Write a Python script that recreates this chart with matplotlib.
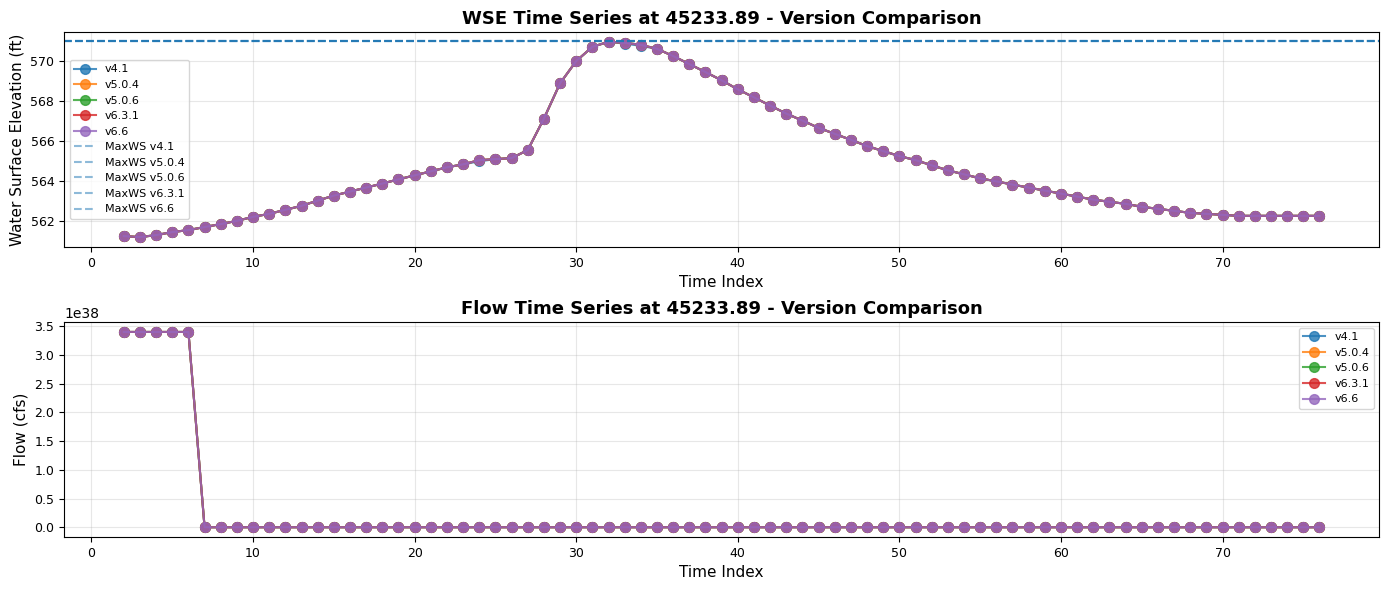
import matplotlib
matplotlib.use("Agg")
import matplotlib.pyplot as plt
import numpy as np

versions = ["v4.1", "v5.0.4", "v5.0.6", "v6.3.1", "v6.6"]
colors = ["#1f77b4", "#ff7f0e", "#2ca02c", "#d62728", "#9467bd"]
time_index = list(range(2, 77))

wse = [561.27, 561.22, 561.32, 561.47, 561.57, 561.72, 561.87, 562.03, 562.23, 562.38,
       562.58, 562.78, 563.04, 563.29, 563.49, 563.69, 563.89, 564.10, 564.30, 564.50,
       564.70, 564.85, 565.06, 565.11, 565.16, 565.56, 567.13, 568.89, 570.00, 570.71,
       570.96, 570.91, 570.81, 570.61, 570.25, 569.85, 569.45, 569.04, 568.59, 568.19,
       567.78, 567.38, 567.03, 566.67, 566.37, 566.07, 565.76, 565.51, 565.26, 565.06,
       564.80, 564.55, 564.35, 564.15, 564.00, 563.84, 563.69, 563.54, 563.39, 563.24,
       563.09, 562.98, 562.88, 562.73, 562.63, 562.53, 562.43, 562.38, 562.33, 562.28,
       562.28, 562.28, 562.28, 562.28, 562.28]
wse_v41 = list(wse)
wse_v41[22] = 565.00
wse_v41[31] = 570.87
wse_v41[32] = 570.76

max_ws = [570.98, 570.98, 570.98, 570.98, 570.98]

flow = [3.4028235e38] * 5 + [0.0] * 70

fig, (ax1, ax2) = plt.subplots(2, 1, figsize=(13.89, 5.9), dpi=100)

for i, v in enumerate(versions):
    y = wse_v41 if i == 0 else wse
    ax1.plot(time_index, y, marker="o", color=colors[i], label=v, alpha=0.8,
             markersize=7, linewidth=1.5)
for i, v in enumerate(versions):
    ax1.axhline(max_ws[i], color="#1f77b4", linestyle="--", alpha=0.5,
                label=f"MaxWS {v}", linewidth=1.5)
ax1.set_title("WSE Time Series at 45233.89 - Version Comparison", fontsize=13, fontweight="bold")
ax1.set_xlabel("Time Index", fontsize=11)
ax1.set_ylabel("Water Surface Elevation (ft)", fontsize=11)
ax1.grid(True, alpha=0.3)
ax1.tick_params(labelsize=9)
ax1.legend(fontsize=8, loc="center left")

for i, v in enumerate(versions):
    ax2.plot(time_index, flow, marker="o", color=colors[i], label=v, alpha=0.8,
             markersize=7, linewidth=1.5)
ax2.set_title("Flow Time Series at 45233.89 - Version Comparison", fontsize=13, fontweight="bold")
ax2.set_xlabel("Time Index", fontsize=11)
ax2.set_ylabel("Flow (cfs)", fontsize=11)
ax2.grid(True, alpha=0.3)
ax2.tick_params(labelsize=9)
ax2.legend(fontsize=8, loc="upper right")

fig.tight_layout(pad=0.7)
fig.savefig("out.png", dpi=100)
